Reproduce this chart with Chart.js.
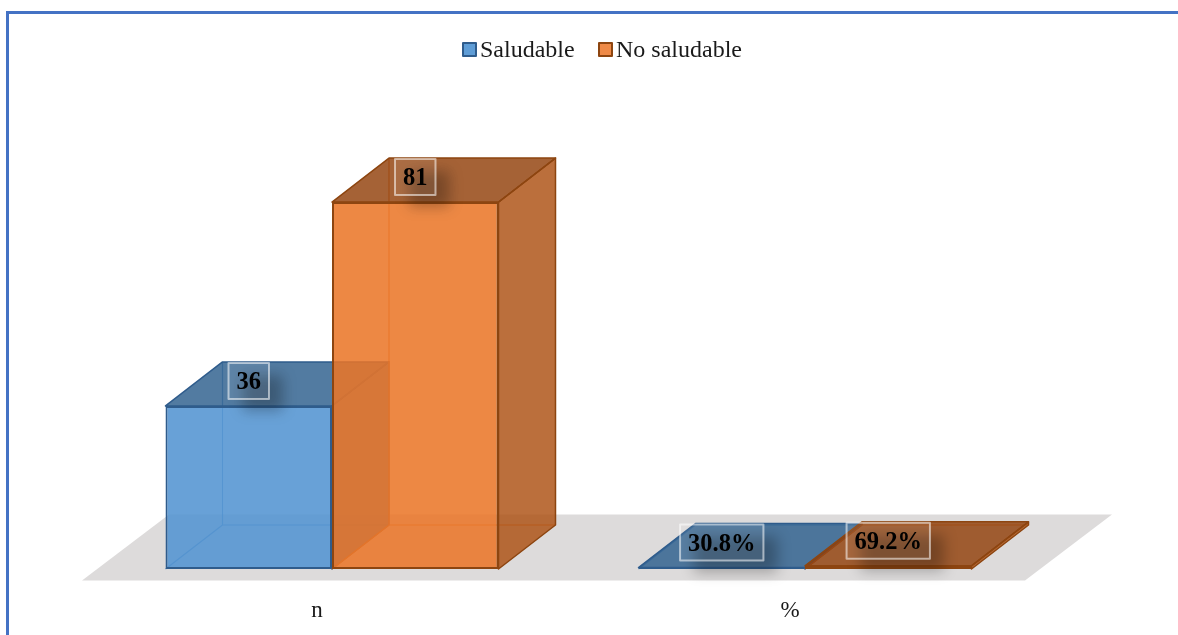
<!DOCTYPE html>
<html>
<head>
<meta charset="utf-8">
<script src="https://cdn.jsdelivr.net/npm/chart.js@4"></script>
<style>
  html, body { margin: 0; padding: 0; background: #fff; overflow: hidden; }
  #wrap { position: relative; width: 1178px; height: 635px; }
  #frame { position: absolute; left: 6px; top: 11px; width: 1300px; height: 800px; border-top: 3px solid #4472c4; border-left: 3px solid #4472c4; }
  canvas { position: absolute; left: 0; top: 0; }
</style>
</head>
<body>
<div id="wrap">
  <div id="frame"></div>
  <canvas id="chart" width="1178" height="635"></canvas>
</div>
<script>
// categories and series (% kept as the small values they plot at)
const categories = ['n', '%'];
const seriesNames = ['Saludable', 'No saludable'];
const saludable = [36, 0.308];
const noSaludable = [81, 0.692];
const saludableLabels = ['36', '30.8%'];
const noSaludableLabels = ['81', '69.2%'];

const FONT = '"Liberation Serif", "Times New Roman", serif';
const DEPTH_X = 57, DEPTH_Y = -44;

const styles = [
  { front: 'rgba(81,147,209,0.85)', top: 'rgba(46,95,142,0.82)', side: 'rgba(46,95,142,0.75)',
    inner: 'rgba(81,147,209,0.08)', edge: '#2f5c8c', innerEdge: 'rgba(70,130,190,0.75)', legend: '#5f9dd6' },
  { front: 'rgba(235,118,39,0.85)', top: 'rgba(144,62,9,0.8)', side: 'rgba(171,79,16,0.8)',
    inner: 'rgba(235,118,39,0.08)', edge: '#8d4510', innerEdge: 'rgba(225,110,35,0.8)', legend: '#ef8a47' }
];

function poly(ctx, pts, fill, stroke, lw) {
  ctx.beginPath();
  pts.forEach((p, i) => i ? ctx.lineTo(p[0], p[1]) : ctx.moveTo(p[0], p[1]));
  ctx.closePath();
  if (fill) { ctx.fillStyle = fill; ctx.fill(); }
  if (stroke) { ctx.strokeStyle = stroke; ctx.lineWidth = lw || 1; ctx.lineJoin = 'round'; ctx.stroke(); }
}

function box(bar) {
  const p = bar.getProps(['x', 'y', 'base', 'width'], true);
  return { l: p.x - p.width / 2, r: p.x + p.width / 2, t: p.y, b: p.base, cx: p.x };
}

function drawInner(ctx, meta, s) {
  meta.data.forEach(bar => {
    const c = box(bar);
    const dx = DEPTH_X, dy = DEPTH_Y;
    // back, left and floor of the box, seen through the front
    poly(ctx, [[c.l + dx, c.t + dy], [c.r + dx, c.t + dy], [c.r + dx, c.b + dy], [c.l + dx, c.b + dy]], s.inner);
    poly(ctx, [[c.l, c.t], [c.l + dx, c.t + dy], [c.l + dx, c.b + dy], [c.l, c.b]], s.inner);
    poly(ctx, [[c.l, c.b], [c.r, c.b], [c.r + dx, c.b + dy], [c.l + dx, c.b + dy]], s.inner);
    ctx.strokeStyle = s.innerEdge;
    ctx.lineWidth = 1.2;
    ctx.beginPath();
    ctx.moveTo(c.l + dx, c.t + dy); ctx.lineTo(c.l + dx, c.b + dy);
    ctx.lineTo(c.r + dx, c.b + dy);
    ctx.moveTo(c.l, c.b); ctx.lineTo(c.l + dx, c.b + dy);
    ctx.stroke();
  });
}

function drawOuter(ctx, meta, s) {
  meta.data.forEach(bar => {
    const c = box(bar);
    const dx = DEPTH_X, dy = DEPTH_Y;
    poly(ctx, [[c.r, c.t], [c.r + dx, c.t + dy], [c.r + dx, c.b + dy], [c.r, c.b]], s.side, s.edge, 1.5);
    poly(ctx, [[c.l, c.t], [c.r, c.t], [c.r + dx, c.t + dy], [c.l + dx, c.t + dy]], s.top, s.edge, 1.5);
  });
}

function drawLabels(chart) {
  const ctx = chart.ctx, dpr = chart.currentDevicePixelRatio;
  [saludableLabels, noSaludableLabels].forEach((labels, d) => {
    chart.getDatasetMeta(d).data.forEach((bar, i) => {
      const c = box(bar);
      ctx.font = 'bold 24.5px ' + FONT;
      const w = ctx.measureText(labels[i]).width + 16, h = 36;
      const x = c.cx - w / 2, y = c.t - 25 - h / 2;

      // soft shadow, rect itself stays off canvas
      ctx.save();
      ctx.shadowColor = 'rgba(0,0,0,0.27)';
      ctx.shadowBlur = 14 * dpr;
      ctx.shadowOffsetX = (5000 + 14) * dpr;
      ctx.shadowOffsetY = 12 * dpr;
      ctx.fillStyle = '#000';
      ctx.fillRect(x - 5000, y, w, h);
      ctx.restore();

      ctx.fillStyle = 'rgba(255,255,255,0.07)';
      ctx.fillRect(x, y, w, h);
      ctx.strokeStyle = 'rgba(255,255,255,0.55)';
      ctx.lineWidth = 2;
      ctx.strokeRect(x, y, w, h);

      ctx.fillStyle = '#000';
      ctx.textAlign = 'center';
      ctx.textBaseline = 'middle';
      ctx.fillText(labels[i], c.cx, y + h / 2 + 2);
    });
  });
}

function drawLegend(ctx) {
  ctx.font = '24px ' + FONT;
  ctx.textAlign = 'left';
  ctx.textBaseline = 'middle';
  const legendX = [463, 599];
  seriesNames.forEach((name, i) => {
    ctx.fillStyle = styles[i].legend;
    ctx.strokeStyle = styles[i].edge;
    ctx.lineWidth = 2;
    ctx.fillRect(legendX[i], 43, 13, 13);
    ctx.strokeRect(legendX[i], 43, 13, 13);
    ctx.fillStyle = '#1a1a1a';
    ctx.fillText(name, legendX[i] + 17, 51);
  });
}

// Chart.js paints dataset 0 last; here orange has to lie over blue, so the
// datasets are painted in our own order with the faces around each one
const cubePlugin = {
  id: 'cube',
  beforeDatasetsDraw(chart) {
    const ctx = chart.ctx, a = chart.chartArea;
    const y0 = chart.scales.y.getPixelForValue(0);
    poly(ctx, [[a.left - 13.5, y0 + 11.5], [a.left + 73.5, y0 - 54.5], [a.right + 70.5, y0 - 54.5], [a.right - 16.5, y0 + 11.5]], '#dddbdb');

    styles.forEach((s, d) => {
      const meta = chart.getDatasetMeta(d);
      drawInner(ctx, meta, s);
      meta.controller.draw();
      drawOuter(ctx, meta, s);
    });

    drawLabels(chart);
    drawLegend(ctx);
    return false;
  }
};

new Chart(document.getElementById('chart').getContext('2d'), {
  type: 'bar',
  data: {
    labels: categories,
    datasets: [
      { label: seriesNames[0], data: saludable, backgroundColor: styles[0].front, borderColor: styles[0].edge, borderWidth: 2, borderSkipped: false },
      { label: seriesNames[1], data: noSaludable, backgroundColor: styles[1].front, borderColor: styles[1].edge, borderWidth: 2, borderSkipped: false }
    ]
  },
  options: {
    responsive: false,
    animation: false,
    devicePixelRatio: 1,
    layout: { padding: { top: 116, left: 95.5, right: 136.5, bottom: 0 } },
    categoryPercentage: 0.704,
    barPercentage: 1,
    plugins: {
      legend: { display: false },
      tooltip: { enabled: false }
    },
    scales: {
      x: {
        grid: { display: false },
        border: { display: false },
        ticks: { color: '#1a1a1a', font: { family: FONT, size: 23 }, padding: 20, labelOffset: -15, maxRotation: 0 },
        afterFit: scale => { scale.height = 66; }
      },
      y: { display: false, min: 0, max: 100 }
    }
  },
  plugins: [cubePlugin]
});
</script>
</body>
</html>
